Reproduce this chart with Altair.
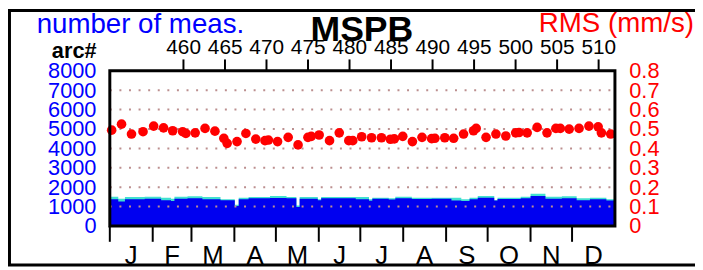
import altair as alt
import pandas as pd

FONT = "Liberation Sans"

# ---- data ----
# number of measurements (step area): segment start in arc units, total (cyan) and main (blue)
seg_start = [451.0, 452.19, 452.99, 455.37, 457.35, 458.54, 458.95, 460.53, 462.32, 464.50,
             466.22, 466.69, 467.88, 470.46, 472.45, 473.64, 474.03, 476.22, 476.62, 480.79,
             482.38, 482.78, 484.76, 485.55, 487.54, 489.93, 492.31, 493.50, 494.49, 495.48,
             497.47, 497.86, 500.65, 501.84, 503.63, 505.61, 507.39, 508.99, 510.97, 512.0]
meas_total = [1512, 1410, 1495, 1512, 1461, 1410, 1512, 1530, 1495, 1376,
              1100, 1461, 1495, 1546, 1495, 1050, 1495, 1376, 1495, 1495,
              1376, 1461, 1427, 1512, 1461, 1461, 1461, 1376, 1461, 1546,
              1330, 1461, 1512, 1665, 1512, 1530, 1427, 1461, 1376, 1376]
meas_main = [1376, 1257, 1376, 1410, 1325, 1291, 1410, 1427, 1376, 1325,
             1036, 1376, 1427, 1444, 1427, 985, 1410, 1325, 1427, 1376,
             1300, 1410, 1360, 1427, 1393, 1410, 1310, 1291, 1376, 1461,
             1310, 1393, 1427, 1546, 1410, 1427, 1325, 1376, 1310, 1310]

# RMS dots
rms_arc = [451.39, 452.58, 453.78, 455.17, 456.45, 457.64, 458.74, 459.94, 460.33, 461.45,
           462.64, 463.83, 464.90, 465.30, 466.49, 467.56, 468.75, 469.86, 470.27, 471.37,
           472.65, 473.84, 475.03, 475.43, 476.38, 477.63, 478.80, 479.95, 480.43, 481.50,
           482.69, 483.88, 484.96, 485.43, 486.45, 487.61, 488.77, 489.93, 490.32, 491.51,
           492.58, 493.77, 494.97, 495.29, 496.48, 497.67, 498.86, 500.05, 500.45, 501.43,
           502.63, 503.82, 504.89, 505.42, 506.49, 507.68, 508.87, 509.98, 510.37, 511.49]
rms_val = [0.494, 0.525, 0.474, 0.486, 0.515, 0.506, 0.491, 0.486, 0.477, 0.480,
           0.503, 0.489, 0.452, 0.426, 0.435, 0.477, 0.448, 0.440, 0.443, 0.435,
           0.457, 0.418, 0.457, 0.462, 0.469, 0.440, 0.480, 0.440, 0.440, 0.460,
           0.455, 0.455, 0.447, 0.449, 0.462, 0.435, 0.457, 0.450, 0.452, 0.455,
           0.452, 0.474, 0.491, 0.503, 0.457, 0.474, 0.464, 0.480, 0.482, 0.480,
           0.508, 0.480, 0.503, 0.503, 0.499, 0.503, 0.515, 0.511, 0.480, 0.474]

arc_ticks = [460, 465, 470, 475, 480, 485, 490, 495, 500, 505, 510]
count_ticks = [0, 1000, 2000, 3000, 4000, 5000, 6000, 7000, 8000]
rms_ticks = [0, 0.1, 0.2, 0.3, 0.4, 0.5, 0.6, 0.7, 0.8]
grid_counts = [1000, 2000, 3000, 4000, 5000, 6000, 7000]
month_names = ["J", "F", "M", "A", "M", "J", "J", "A", "S", "O", "N", "D"]
month_days = [31, 28, 31, 30, 31, 30, 31, 31, 30, 31, 30, 31]
ARC0 = 451.17       # arc number at 1 January
DAYS_PER_ARC = 6.0
ARC_END = 512.0

W, H = 511, 157

# ---- derived tables ----
area_df = pd.DataFrame({"arc": seg_start, "total": meas_total, "main": meas_main})
rms_df = pd.DataFrame({"arc": rms_arc, "rms": rms_val})
grid_df = pd.DataFrame({"g": grid_counts})
starts = []
acc = 0
for d in month_days:
    starts.append(acc)
    acc += d
month_df = pd.DataFrame({
    "marc": [ARC0 + s / DAYS_PER_ARC for s in starts],
    "mid": [ARC0 + (s + d / 2) / DAYS_PER_ARC for s, d in zip(starts, month_days)],
    "m": month_names,
})
one = pd.DataFrame({"a": [0]})

xscale = alt.Scale(domain=[ARC0, ARC_END], nice=False, zero=False)
cnt_scale = alt.Scale(domain=[0, 8000], nice=False, zero=True)
rms_scale = alt.Scale(domain=[0, 0.8], nice=False, zero=True)

top_axis = alt.Axis(orient="top", values=arc_ticks, tickSize=12, tickWidth=2, tickColor="black",
                    labelFontSize=21, labelFont=FONT, labelColor="black", labelPadding=1,
                    domain=False, grid=False, title=None, labelFlush=False, labelOverlap=False)
left_axis = alt.Axis(orient="left", values=count_ticks, format="d", labelColor="#0000ff",
                     labelFontSize=22, labelFont=FONT, labelPadding=14, ticks=False,
                     domain=False, grid=False, title=None, labelOverlap=False)
right_axis = alt.Axis(orient="right", values=rms_ticks, format="~g", labelColor="#ff0000",
                      labelFontSize=22, labelFont=FONT, labelPadding=14, ticks=False,
                      domain=False, grid=False, title=None, labelOverlap=False)

X = alt.X("arc:Q", scale=xscale, axis=top_axis)

total_area = alt.Chart(area_df).mark_area(interpolate="step-after", color="#40e0d0", clip=True).encode(
    x=X, y=alt.Y("total:Q", scale=cnt_scale, axis=left_axis))
main_area = alt.Chart(area_df).mark_area(interpolate="step-after", color="#0000f0", clip=True).encode(
    x=X, y=alt.Y("main:Q", scale=cnt_scale, axis=None))
grid = alt.Chart(grid_df).mark_rule(color="#bc8f8f", strokeWidth=2, strokeDash=[2, 7.7]).encode(
    y=alt.Y("g:Q", scale=cnt_scale, axis=None), x=alt.value(0), x2=alt.value(W))
points = alt.Chart(rms_df).mark_circle(size=95, color="#ff0000", opacity=1).encode(
    x=X, y=alt.Y("rms:Q", scale=rms_scale, axis=right_axis))
mticks = alt.Chart(month_df).mark_rule(color="black", strokeWidth=2).encode(
    x=alt.X("marc:Q", scale=xscale, axis=top_axis), y=alt.value(H), y2=alt.value(H + 16))
mlabels = alt.Chart(month_df).mark_text(fontSize=26, font=FONT, color="black", align="center",
                                        baseline="alphabetic").encode(
    x=alt.X("mid:Q", scale=xscale, axis=top_axis), y=alt.value(195), text="m:N")


def label(text, x, y, size, color, weight="normal", align="left"):
    return alt.Chart(pd.DataFrame({"t": [text]})).mark_text(
        fontSize=size, font=FONT, color=color, fontWeight=weight, align=align,
        baseline="alphabetic").encode(text="t:N", x=alt.value(x), y=alt.value(y))


t_meas = label("number of meas.", -74, -38, 28, "#0000ff")
t_title = label("MSPB", 255, -30, 36, "black", weight="bold", align="center")
t_arc = label("arc#", -36, -13, 22, "black", weight="bold", align="center")
t_rms = label("RMS (mm/s)", 591, -39, 28, "#ff0000", align="right")

frame = alt.Chart(one).mark_rect(filled=False, stroke="black", strokeWidth=3).encode(
    x=alt.value(0), x2=alt.value(W), y=alt.value(0), y2=alt.value(H))
outer = alt.Chart(one).mark_rect(filled=False, stroke="black", strokeWidth=3).encode(
    x=alt.value(-101.5), x2=alt.value(640), y=alt.value(-61), y2=alt.value(196.5))

chart = alt.layer(
    total_area, main_area, grid, points, mticks, mlabels,
    t_meas, t_title, t_arc, t_rms, frame, outer
).resolve_scale(y="independent").properties(
    width=W, height=H,
    padding={"left": 103, "top": 62, "right": 81, "bottom": 43},
    autosize=alt.AutoSizeParams(type="none"),
).configure_view(stroke=None)

chart.save("out.html", embed_options={"renderer": "svg", "actions": False})
